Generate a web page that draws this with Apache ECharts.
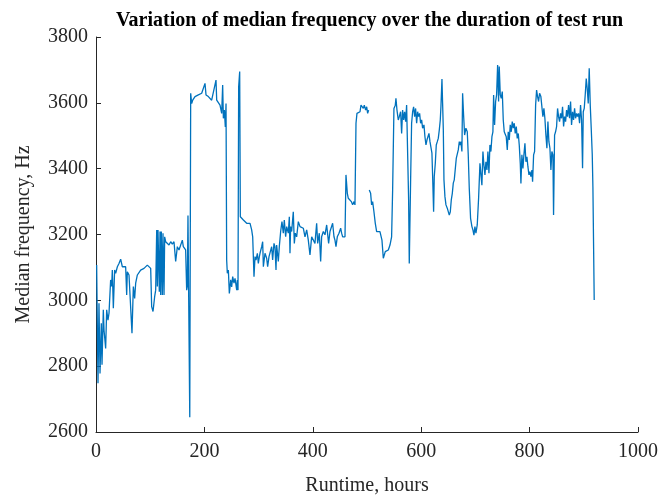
<!DOCTYPE html>
<html>
<head>
<meta charset="utf-8">
<script src="https://cdn.jsdelivr.net/npm/echarts@6/dist/echarts.min.js"></script>
<style>
  html, body { margin: 0; padding: 0; background: #fff; }
  #chart { width: 659px; height: 495px; }
</style>
</head>
<body>
<div id="chart"></div>
<script>
// Runtime (hours) and median frequency (Hz); null marks a break in the record
const hours = [
  1.2, 3.7, 5.5, 7.4, 9.8, 11.1, 13.5, 14.8, 17.8, 19.7, 22.1, 24, 27, 28.9, 30.1, 32, 34.4, 36.3, 39.4, 42.4,
  45.5, 48.6, 51.7, 54.7, 56.6, 57.8, 60.9, 64, 66.4, 68.9, 71.3, 73.2, 76.3, 79.3, 82.4, 85.5, 88.6, 91.6, 94.7, 97.8,
  100.9, 102.7, 105.2, 108.2, 110.1, 112, 113.2, 114.4, 116.8, 118.1, 119.3, 120.5, 122.4, 123.6, 125.5, 126.7, 128.5, 131.6, 134.7, 137.8,
  140.8, 143.9, 147, 150.1, 153.1, 156.2, 159.3, 161.1, 163.6, 165.4, 167.3, 168.5, 169.7, 171, 173, 174.7, 176.5, 178.4, 182.7, 188.8,
  195, 198, 201.1, 203, 207.3, 210.4, 213.4, 216.5, 221.4, 222.7, 225.7, 228.8, 231.9, 233.7, 235, 236.8, 238.6, 239.9, 241.1, 242.3,
  244.2, 246, 247.3, 248.5, 250.3, 252.2, 254.6, 256.5, 258.3, 259.6, 260.8, 262, 263.2, 265.1, 266.3, 268.8, 271.9, 274.9, 278, 281.1,
  284.2, 287.2, 289.1, 291.5, 293.4, 295.2, 297.7, 299.5, 301.4, 302.6, 305.7, 307.5, 308.8, 311.8, 314.9, 316.7, 319.2, 321, 324.1, 325.9,
  328.4, 330.2, 332.1, 333.3, 336.4, 338.2, 340.7, 343.1, 345.6, 347.4, 349.9, 351.8, 354.8, 356.7, 357.9, 359.1, 361, 364, 365.9, 367.7,
  370.2, 373.3, 376.4, 379.4, 382.5, 385.6, 388.7, 391.7, 394.8, 397.9, 401, 404, 407.1, 409, 412, 414.5, 416.3, 419.4, 422.5, 425.6,
  427.4, 429.2, 431.7, 434.8, 436.6, 439.1, 440.9, 442.8, 445.2, 448.3, 451.4, 453.2, 455.1, 457.5, 459.4, 461.2, 463.7, 465.5, 468.6, 471.1,
  473.5, 476, 477.8, 479.7, 481.5, 484, 487.1, 488.9, 491.4, 493.2, 495, 497.5, 499.4, 501.2, 503, 503.6, 504.2, 506.7, 508.5, 510.4,
  512.8, 515.3, 517.8, 519.6, 521.4, 523.9, 525.7, 527.6, 530.1, 531.9, 533.7, 536.2, 539.3, 542.4, 545.4, 547.3, 549.7, 552.2, 553.4, 555.3,
  557.7, 559.6, 562, 563.9, 565.7, 567.6, 569.4, 571.3, 573.1, 574.9, 576.8, 578, 580.5, 582.3, 584.2, 586, 587.9, 589.7, 591.6, 593.4,
  595.2, 597.1, 598.9, 600.8, 602.6, 605.1, 606.9, 608.8, 610.6, 612.5, 614.3, 616.2, 618, 619.8, 621.1, 622.9, 624.1, 626, 627.8, 629.7,
  631.5, 633.4, 635.2, 636.4, 638.3, 639.5, 640.8, 642, 643.8, 645.7, 648.1, 650, 651.8, 653.7, 655.5, 657.4, 659.2, 661, 662.9, 664.7,
  666.6, 668.4, 670.3, 671.5, 673.3, 675.1, 676.4, 678.2, 680.1, 682.5, 685, 686.8, 688.7, 691.1, 693.6, 695.4, 697.3, 699.1, 701, 703.4,
  705.9, 708.4, 710.2, 712, 713.9, 715.7, 717.6, 719.4, 721.3, 723.1, 725, 726.8, 728.6, 730.5, 732.3, 733.6, 735.4, 737.3, 739.1, 741,
  742.8, 744, 745.9, 747.7, 749.6, 751.4, 753.2, 755.1, 756.9, 758.8, 760.6, 762.5, 764.3, 766.2, 768, 769.9, 771.7, 773.5, 775.4, 777.2,
  779.1, 780.9, 782.8, 784, 785.8, 787.7, 789.5, 791.4, 793.2, 795.1, 796.9, 798.8, 800.6, 802.4, 804.3, 805.5, 807.4, 809.2, 811.1, 812.9,
  814.7, 816.6, 818.4, 820.8, 822.7, 824.5, 826.4, 828.2, 830.1, 831.9, 833.8, 835.6, 837.5, 839.3, 841.1, 843, 844.2, 846.1, 847.9, 849.8,
  851.6, 853.4, 855.3, 857.1, 859, 860.8, 862.7, 864.5, 866.4, 868.2, 870, 871.9, 873.7, 875.6, 877.4, 879.3, 881.1, 883, 884.8, 886.7,
  888.5, 890.3, 892.2, 894, 895.9, 897.7, 899, 900.8, 902.6, 904.5, 906.3, 908.2, 910, 911.9, 913.7, 915.6, 916.8, 918, 919.2
];
const medianFreq = [
  3107, 2748, 2991, 2778, 2930, 2804, 2971, 2910, 2854, 2971, 2940, 2961, 3062, 3042, 3092, 2976, 3092, 3082, 3102, 3112,
  3125, 3102, 3097, 3102, 3016, 3087, 3077, 3082, 2900, 3042, 3006, 3052, 3077, 3082, 3092, 3087, 3097, 3092, 3107, 3112,
  3097, 2981, 2966, 3011, 3031, 3214, 3042, 3214, 3026, 3209, 3016, 3209, 3016, 3204, 3016, 3193, 3178, 3173, 3168, 3178,
  3171, 3178, 3118, 3163, 3153, 3158, 3183, 3163, 3168, 3153, 3031, 3042, 3258, 3010, 2645, 3629, 3598, 3608, 3619, 3624,
  3629, 3634, 3659, 3624, 3619, 3614, 3608, 3614, 3669, 3608, 3603, 3593, 3568, 3654, 3553, 3578, 3527, 3598, 3122, 3082,
  3092, 3021, 3041, 3062, 3041, 3072, 3052, 3067, 3062, 3031, 3062, 3031, 3649, 3695, 3254, 3249, 3244, 3239, 3234, 3239,
  3234, 3214, 3193, 3072, 3133, 3122, 3143, 3112, 3133, 3143, 3163, 3178, 3102, 3143, 3128, 3102, 3133, 3133, 3163, 3123,
  3173, 3163, 3092, 3168, 3118, 3163, 3209, 3239, 3204, 3244, 3193, 3224, 3204, 3254, 3143, 3224, 3209, 3269, 3173, 3204,
  3193, 3239, 3224, 3229, 3219, 3193, 3214, 3183, 3138, 3193, 3199, 3173, 3234, 3173, 3204, 3118, 3193, 3209, 3199, 3229,
  3234, 3173, 3209, 3214, 3234, 3193, 3183, 3163, 3193, 3204, 3219, 3204, 3193, 3193, 3193, 3381, 3325, 3310, 3315, 3300,
  3290, 3300, 3290, 3538, 3568, 3573, 3573, 3593, 3598, 3583, 3593, 3578, 3588, 3568, 3578, null, 3335, 3325, 3290, 3300,
  3269, 3234, 3209, 3214, 3204, 3209, 3204, 3183, 3128, 3133, 3148, 3153, 3153, 3168, 3193, 3335, 3583, 3593, 3614, 3578,
  3548, 3558, 3573, 3507, 3578, 3548, 3573, 3543, 3593, 3588, 3305, 3112, 3366, 3538, 3573, 3588, 3558, 3583, 3538, 3573,
  3558, 3568, 3538, 3548, 3523, 3533, 3497, 3472, 3487, 3492, 3507, 3482, 3487, 3447, 3376, 3269, 3376, 3416, 3472, 3482,
  3492, 3518, 3548, 3588, 3672, 3599, 3518, 3366, 3315, 3290, 3280, 3285, 3259, 3269, 3305, 3325, 3356, 3366, 3361, 3431,
  3426, 3457, 3482, 3472, 3482, 3452, 3629, 3563, 3502, 3523, 3512, 3442, 3340, 3249, 3224, 3214, 3198, 3224, 3204, 3229,
  3310, 3416, 3411, 3350, 3452, 3411, 3381, 3421, 3396, 3452, 3386, 3472, 3452, 3497, 3512, 3624, 3533, 3604, 3624, 3715,
  3604, 3710, 3624, 3614, 3634, 3548, 3512, 3512, 3497, 3457, 3512, 3487, 3533, 3512, 3543, 3523, 3538, 3507, 3528, 3492,
  3507, 3472, 3416, 3355, 3442, 3401, 3442, 3477, 3421, 3436, 3406, 3381, 3391, 3376, 3396, 3360, 3442, 3452, 3593, 3639,
  3619, 3604, 3629, 3619, 3624, 3558, 3583, 3553, 3502, 3462, 3543, 3482, 3462, 3396, 3452, 3442, 3259, 3502, 3512, 3528,
  3583, 3558, 3543, 3568, 3553, 3588, 3528, 3558, 3543, 3578, 3558, 3593, 3553, 3604, 3533, 3573, 3548, 3583, 3553, 3568,
  3558, 3568, 3538, 3593, 3548, 3401, 3573, 3583, 3624, 3674, 3644, 3598, 3705, 3593, 3523, 3442, 3345, 3350, 3001
];

// Axis settings
const xTicks = { min: 0, max: 1000, step: 200 };
const yTicks = { min: 2600, max: 3800, step: 200 };

const points = hours.map((h, i) => [h, medianFreq[i]]);

const serif = '"Liberation Serif", "Times New Roman", serif';
const axisColor = '#262626';
const plainNumber = v => String(v);

const chart = echarts.init(document.getElementById('chart'), null, { renderer: 'canvas' });
chart.setOption({
  animation: false,
  backgroundColor: '#ffffff',
  title: {
    text: 'Variation of median frequency over the duration of test run',
    left: 116,
    top: 11,
    padding: 0,
    textStyle: { fontFamily: serif, fontSize: 20, fontWeight: 'bold', color: '#000' }
  },
  grid: { left: 96, right: 21, top: 37, bottom: 63, containLabel: false, outerBoundsMode: 'none' },
  xAxis: {
    type: 'value',
    min: xTicks.min,
    max: xTicks.max,
    interval: xTicks.step,
    name: 'Runtime, hours',
    nameLocation: 'middle',
    nameGap: 44,
    nameTextStyle: { fontFamily: serif, fontSize: 20, color: axisColor },
    axisLine: { show: true, lineStyle: { color: axisColor, width: 1 } },
    axisTick: { show: true, inside: true, length: 5, lineStyle: { color: axisColor } },
    axisLabel: { fontFamily: serif, fontSize: 20, color: axisColor, margin: 10, formatter: plainNumber },
    splitLine: { show: false }
  },
  yAxis: {
    type: 'value',
    min: yTicks.min,
    max: yTicks.max,
    interval: yTicks.step,
    name: 'Median frequency, Hz',
    nameLocation: 'middle',
    nameGap: 62,
    nameTextStyle: { fontFamily: serif, fontSize: 20, color: axisColor },
    axisLine: { show: true, lineStyle: { color: axisColor, width: 1 } },
    axisTick: { show: true, inside: true, length: 5, lineStyle: { color: axisColor } },
    axisLabel: { fontFamily: serif, fontSize: 20, color: axisColor, margin: 8, formatter: plainNumber },
    splitLine: { show: false }
  },
  series: [{
    type: 'line',
    data: points,
    showSymbol: false,
    connectNulls: false,
    lineStyle: { color: '#0072BD', width: 1.3 },
    itemStyle: { color: '#0072BD' }
  }]
});
</script>
</body>
</html>
